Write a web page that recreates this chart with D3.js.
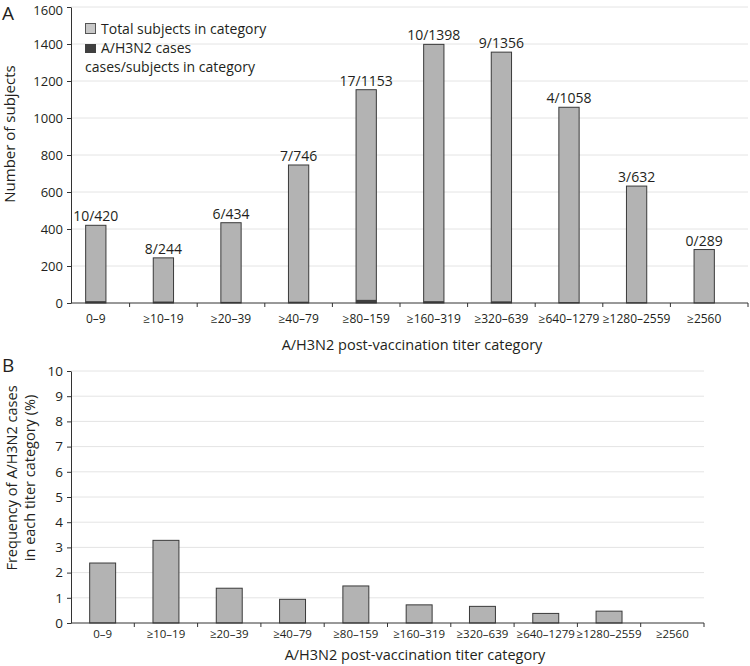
<!DOCTYPE html>
<html>
<head>
<meta charset="utf-8">
<script src="https://cdn.jsdelivr.net/npm/d3@7"></script>
<style>
  body { margin: 0; background: #fff; }
  svg { display: block; }
  text { font-family: "Open Sans", "Noto Sans", sans-serif; fill: #231f20; }
</style>
</head>
<body>
<svg id="chart" width="750" height="666"></svg>
<script>
const categories = ["0–9", "≥10–19", "≥20–39", "≥40–79", "≥80–159", "≥160–319", "≥320–639", "≥640–1279", "≥1280–2559", "≥2560"];
const totalSubjects = [420, 244, 434, 746, 1153, 1398, 1356, 1058, 632, 289];
const h3n2Cases = [10, 8, 6, 7, 17, 10, 9, 4, 3, 0];
const frequencyPct = [2.38, 3.28, 1.38, 0.94, 1.47, 0.72, 0.66, 0.38, 0.47, 0];
const yTicksA = [0, 200, 400, 600, 800, 1000, 1200, 1400, 1600];
const yTicksB = [0, 1, 2, 3, 4, 5, 6, 7, 8, 9, 10];

const svg = d3.select("#chart");
const barFill = "#b3b3b3", barStroke = "#3a3a3a", caseFill = "#404040", gridColor = "#e4e4e4", axisColor = "#333";

// ---------- Panel A ----------
const A = { left: 71, right: 748, top: 7, bottom: 303 };
const xA = d3.scaleBand().domain(categories).range([62, 738]).paddingInner(0.7).paddingOuter(0.35);
const yA = d3.scaleLinear().domain([0, 1600]).range([A.bottom, A.top]);

const gA = svg.append("g");
gA.append("g").selectAll("line").data(yTicksA.filter(d => d > 0)).join("line")
  .attr("x1", A.left).attr("x2", A.right)
  .attr("y1", d => yA(d)).attr("y2", d => yA(d))
  .attr("stroke", gridColor).attr("stroke-width", 1);

gA.append("g").selectAll("rect").data(categories).join("rect")
  .attr("x", d => xA(d)).attr("width", xA.bandwidth())
  .attr("y", (d, i) => yA(totalSubjects[i])).attr("height", (d, i) => yA(0) - yA(totalSubjects[i]))
  .attr("fill", barFill).attr("stroke", barStroke).attr("stroke-width", 1);

gA.append("g").selectAll("rect").data(categories).join("rect")
  .attr("x", d => xA(d)).attr("width", xA.bandwidth())
  .attr("y", (d, i) => yA(h3n2Cases[i])).attr("height", (d, i) => yA(0) - yA(h3n2Cases[i]))
  .attr("fill", caseFill);

gA.append("g").selectAll("text").data(categories).join("text")
  .attr("x", d => xA(d) + xA.bandwidth() / 2)
  .attr("y", (d, i) => yA(totalSubjects[i]) - 4)
  .attr("text-anchor", "middle").attr("font-size", 14)
  .text((d, i) => h3n2Cases[i] + "/" + totalSubjects[i]);

const yAxisA = gA.append("g").attr("transform", `translate(${A.left},0)`)
  .call(d3.axisLeft(yA).tickValues(yTicksA).tickFormat(d3.format("d")).tickSize(4).tickSizeOuter(0).tickPadding(4));
yAxisA.selectAll("text").attr("font-size", 13).style("font-family", "'Open Sans', sans-serif").attr("fill", "#231f20");
yAxisA.selectAll("text").filter(d => d === 1600).attr("dy", "0.55em");
yAxisA.selectAll("line, path").attr("stroke", axisColor);

// x axis A
const centersA = categories.map(c => xA(c) + xA.bandwidth() / 2);
const boundsA = centersA.slice(1).map((c, i) => (c + centersA[i]) / 2).concat([A.right]);
gA.append("line").attr("x1", A.left).attr("x2", A.right).attr("y1", A.bottom).attr("y2", A.bottom).attr("stroke", axisColor);
gA.append("g").selectAll("line").data(boundsA).join("line")
  .attr("x1", d => d).attr("x2", d => d).attr("y1", A.bottom).attr("y2", A.bottom + 4).attr("stroke", axisColor);
gA.append("g").selectAll("text").data(categories).join("text")
  .attr("x", d => xA(d) + xA.bandwidth() / 2).attr("y", 323)
  .attr("text-anchor", "middle").attr("font-size", 12).text(d => d);

gA.append("text").attr("x", 412).attr("y", 350).attr("text-anchor", "middle").attr("font-size", 14.5)
  .text("A/H3N2 post-vaccination titer category");
gA.append("text").attr("transform", "translate(15,134) rotate(-90)").attr("text-anchor", "middle").attr("font-size", 15)
  .text("Number of subjects");
gA.append("text").attr("x", 2).attr("y", 20).attr("font-size", 19).text("A");

// legend
const legend = gA.append("g");
legend.append("rect").attr("x", 85.5).attr("y", 23.5).attr("width", 10).attr("height", 10)
  .attr("fill", "#c8c8c8").attr("stroke", "#555");
legend.append("text").attr("x", 101).attr("y", 34).attr("font-size", 14).text("Total subjects in category");
legend.append("rect").attr("x", 85).attr("y", 44).attr("width", 11).attr("height", 9).attr("fill", caseFill);
legend.append("text").attr("x", 101).attr("y", 53).attr("font-size", 14).text("A/H3N2 cases");
legend.append("text").attr("x", 85).attr("y", 72).attr("font-size", 14).text("cases/subjects in category");

// ---------- Panel B ----------
const B = { left: 71, right: 704, top: 371, bottom: 623 };
const xB = d3.scaleBand().domain(categories).range([B.left, B.right]).paddingInner(0.59).paddingOuter(0.295);
const yB = d3.scaleLinear().domain([0, 10]).range([B.bottom, B.top]);

const gB = svg.append("g");
gB.append("g").selectAll("line").data(yTicksB.filter(d => d > 0)).join("line")
  .attr("x1", B.left).attr("x2", B.right)
  .attr("y1", d => yB(d)).attr("y2", d => yB(d))
  .attr("stroke", gridColor).attr("stroke-width", 1);

gB.append("g").selectAll("rect").data(categories.filter((d, i) => frequencyPct[i] > 0)).join("rect")
  .attr("x", d => xB(d)).attr("width", xB.bandwidth())
  .attr("y", d => yB(frequencyPct[categories.indexOf(d)]))
  .attr("height", d => yB(0) - yB(frequencyPct[categories.indexOf(d)]))
  .attr("fill", barFill).attr("stroke", barStroke).attr("stroke-width", 1);

const yAxisB = gB.append("g").attr("transform", `translate(${B.left},0)`)
  .call(d3.axisLeft(yB).tickValues(yTicksB).tickFormat(d3.format("d")).tickSize(4).tickSizeOuter(0).tickPadding(4));
yAxisB.selectAll("text").attr("font-size", 13.5).style("font-family", "'Open Sans', sans-serif").attr("fill", "#231f20");
yAxisB.selectAll("line, path").attr("stroke", axisColor);

const boundsB = d3.range(1, categories.length + 1).map(i => B.left + i * xB.step());
gB.append("line").attr("x1", B.left).attr("x2", B.right).attr("y1", B.bottom).attr("y2", B.bottom).attr("stroke", axisColor);
gB.append("g").selectAll("line").data(boundsB).join("line")
  .attr("x1", d => d).attr("x2", d => d).attr("y1", B.bottom).attr("y2", B.bottom + 4).attr("stroke", axisColor);
gB.append("g").selectAll("text").data(categories).join("text")
  .attr("x", d => xB(d) + xB.bandwidth() / 2).attr("y", 638)
  .attr("text-anchor", "middle").attr("font-size", 11.5).text(d => d);

gB.append("text").attr("x", 415).attr("y", 660).attr("text-anchor", "middle").attr("font-size", 14.5)
  .text("A/H3N2 post-vaccination titer category");
const yTitleB = gB.append("text").attr("transform", "translate(0,478) rotate(-90)").attr("text-anchor", "middle").attr("font-size", 14.5);
yTitleB.append("tspan").attr("x", 0).attr("y", 17).text("Frequency of A/H3N2 cases");
yTitleB.append("tspan").attr("x", 0).attr("y", 35).text("in each titer category (%)");
gB.append("text").attr("x", 2).attr("y", 372).attr("font-size", 19).text("B");
</script>
</body>
</html>
